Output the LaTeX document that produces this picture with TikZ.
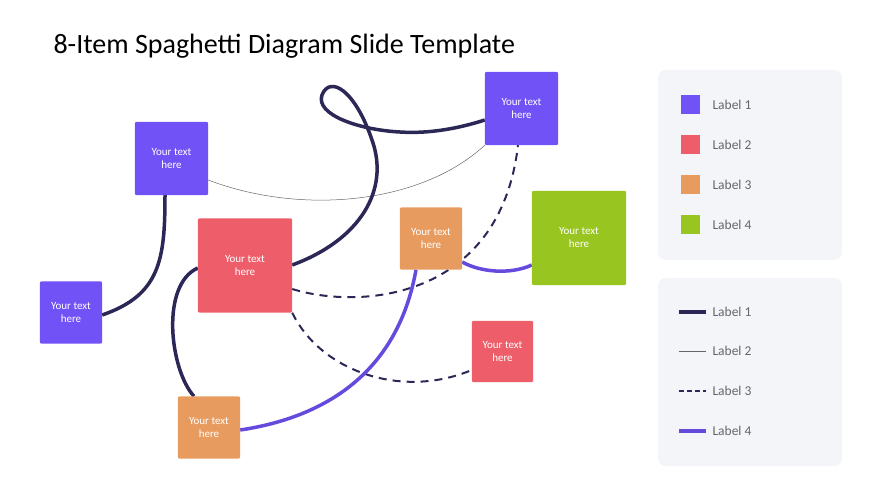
\documentclass[tikz,border=0pt]{standalone}
\usepackage{fontspec}
\setmainfont{Carlito}
\usetikzlibrary{arrows}
\definecolor{itempurple}{HTML}{7052F6}
\definecolor{itemred}{HTML}{EE5E6A}
\definecolor{itemorange}{HTML}{E89B5F}
\definecolor{itemgreen}{HTML}{98C51F}
\definecolor{linenavy}{HTML}{2B2756}
\definecolor{panelgrey}{HTML}{F3F5F9}
\tikzstyle{item} = [rounded corners=2pt, text=white, align=center, font=\fontsize{11}{13}\selectfont, inner sep=0pt]
\tikzstyle{thickline} = [line width=3.5pt, linenavy]
\tikzstyle{thinline} = [line width=0.5pt, gray!80!black]
\tikzstyle{dashline} = [line width=2pt, linenavy, dash pattern=on 8pt off 6pt]
\tikzstyle{purpleline} = [line width=3.5pt, itempurple!90!black]
\tikzstyle{legendtext} = [anchor=west, text=gray!80!black, font=\fontsize{13.5}{16}\selectfont]

\begin{document}
\begin{tikzpicture}[x=1pt, y=-1pt]
\useasboundingbox (0,0) rectangle (870,489);

\node at (50,46) [anchor=west, font=\fontsize{28}{32}\selectfont] {8-Item Spaghetti Diagram Slide Template};

% items (boxes are filled again after the connectors)
\node (itemA) [item, minimum size=73pt] at (521.5,108.5) {};
\node (itemB) [item, minimum size=73pt] at (171.5,158.5) {};
\node (itemC) [item, minimum size=62pt] at (71,312.5) {};
\node (itemD) [item, minimum size=94pt] at (245,265.5) {};
\node (itemE) [item, minimum size=62pt] at (431,238.5) {};
\node (itemF) [item, minimum size=94pt] at (579,238) {};
\node (itemG) [item, minimum size=61pt] at (502.5,351.5) {};
\node (itemH) [item, minimum size=62pt] at (209,427.5) {};

% connectors
\draw [thinline] (itemB.east |- 0,180) .. controls (300,215) and (420,205) .. (itemA.south west);
\draw [thickline] (itemC.east |- 0,315) .. controls (160,295) and (165,260) .. (itemB.south -| 165,0);
\draw [thickline] (itemD.east |- 0,265) .. controls (360,240) and (390,190) .. (372,140)
  .. controls (355,90) and (330,75) .. (322,95)
  .. controls (315,115) and (360,130) .. (400,132)
  .. controls (430,134) and (460,128) .. (itemA.west |- 0,120);
\draw [thickline] (itemD.west |- 0,268) .. controls (160,285) and (170,370) .. (itemH.north -| 194,0);
\draw [dashline] (itemD.east |- 0,289) .. controls (360,310) and (500,300) .. (itemA.south -| 518,0);
\draw [dashline] (itemD.south east) .. controls (320,370) and (400,400) .. (itemG.west |- 0,370);
\draw [purpleline] (itemH.east |- 0,430) .. controls (340,415) and (400,360) .. (itemE.south -| 416,0);
\draw [purpleline] (itemE.east |- 0,262) .. controls (480,272) and (510,275) .. (itemF.west |- 0,265);

\foreach \n/\c in {itemA/itempurple, itemB/itempurple, itemC/itempurple, itemD/itemred, itemE/itemorange, itemF/itemgreen, itemG/itemred, itemH/itemorange} {
  \fill [\c, rounded corners=2pt] (\n.north west) rectangle (\n.south east);
  \node [item] at (\n) {Your text\\here};
}

% legend
\fill [panelgrey, rounded corners=8pt] (658,70) rectangle (842,260);
\fill [panelgrey, rounded corners=8pt] (658,278) rectangle (842,466);
\foreach \c [count=\i] in {itempurple, itemred, itemorange, itemgreen} {
  \fill [\c] (681,{55+40*\i}) rectangle +(19,19);
  \node (key\i) [legendtext] at (709,{64.5+40*\i}) {Label \i};
}
\draw [thickline] (679,312) -- (706,312);
\node (lineA) [legendtext] at (709,312) {Label 1};
\draw [thinline] (679,351) -- (706,351);
\node (lineB) [legendtext] at (709,351) {Label 2};
\draw [linenavy, line width=2pt, dash pattern=on 5pt off 3pt] (679,391) -- (706,391);
\node (lineC) [legendtext] at (709,391) {Label 3};
\draw [purpleline] (679,431) -- (706,431);
\node (lineD) [legendtext] at (709,431) {Label 4};
\end{tikzpicture}
\end{document}
